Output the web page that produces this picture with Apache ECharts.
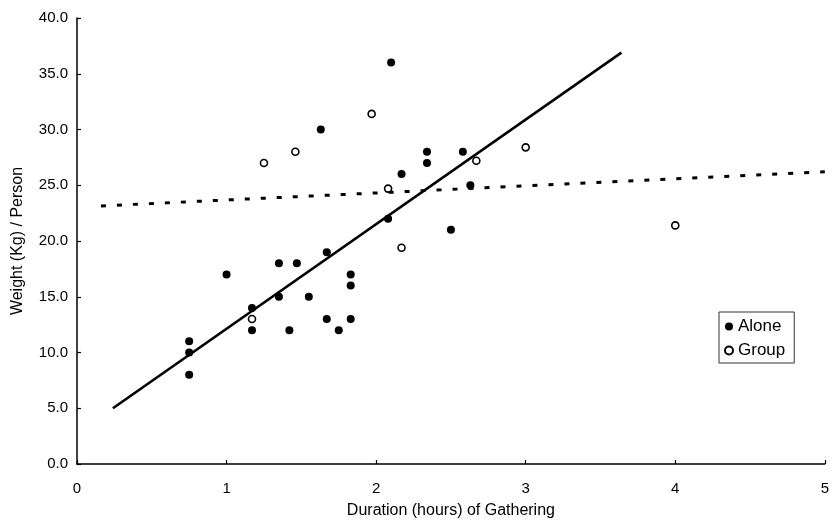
<!DOCTYPE html>
<html>
<head>
<meta charset="utf-8">
<script src="https://cdn.jsdelivr.net/npm/echarts@6/dist/echarts.min.js"></script>
<style>
  html, body { margin: 0; padding: 0; background: #fff; }
  #chart { width: 832px; height: 525px; }
</style>
</head>
<body>
<div id="chart"></div>
<script>
// values
const aloneX = [0.75, 0.75, 0.75, 1.00, 1.17, 1.17, 1.35, 1.35, 1.42, 1.47, 1.55, 1.63, 1.67, 1.67, 1.75, 1.83, 1.83, 1.83, 2.08, 2.10, 2.17, 2.34, 2.34, 2.50, 2.58, 2.63]
const aloneY = [11, 10, 8, 17, 14, 12, 18, 15, 12, 18, 15, 30, 19, 13, 12, 17, 16, 13, 22, 36, 26, 28, 27, 21, 28, 25]
const groupX = [1.17, 1.25, 1.46, 1.97, 2.08, 2.17, 2.67, 3.00, 4.00]
const groupY = [13, 27, 28, 31.4, 24.7, 19.4, 27.2, 28.4, 21.4]
// end points of the two fitted lines
const aloneFitX = [0.24, 3.64]
const aloneFitY = [5.0, 36.9]
const groupFitX = [0.16, 5.0]
const groupFitY = [23.15, 26.2]
const xTicks = [0, 1, 2, 3, 4, 5]
const yTicks = [0, 5, 10, 15, 20, 25, 30, 35, 40]

const pairs = (xs, ys) => xs.map((x, i) => [x, ys[i]])

const font = '"Liberation Sans", Arial, sans-serif'
const chart = echarts.init(document.getElementById('chart'))

chart.setOption({
  animation: false,
  backgroundColor: '#fff',
  textStyle: { fontFamily: font, color: '#000' },
  grid: { left: 77, right: 3, top: 18, bottom: 61 },
  legend: {
    orient: 'vertical',
    left: 719,
    top: 312,
    padding: [6, 9, 4, 5],
    itemGap: 7,
    itemWidth: 8,
    itemHeight: 8,
    borderColor: '#333',
    borderWidth: 1,
    textStyle: { fontFamily: font, fontSize: 17, color: '#000' },
    data: [
      { name: 'Alone', icon: 'circle' },
      { name: 'Group', icon: 'circle' }
    ]
  },
  xAxis: {
    type: 'value',
    min: xTicks[0],
    max: xTicks[xTicks.length - 1],
    interval: 1,
    name: 'Duration (hours) of Gathering',
    nameLocation: 'middle',
    nameGap: 39,
    nameTextStyle: { fontFamily: font, fontSize: 16, color: '#000' },
    axisLine: { lineStyle: { color: '#000', width: 1.5 } },
    axisTick: { inside: true, length: 4, lineStyle: { color: '#000', width: 1.2 } },
    axisLabel: { margin: 17, fontFamily: font, fontSize: 15, color: '#000' },
    splitLine: { show: false }
  },
  yAxis: {
    type: 'value',
    min: yTicks[0],
    max: yTicks[yTicks.length - 1],
    interval: 5,
    name: 'Weight (Kg) / Person',
    nameLocation: 'middle',
    nameGap: 51,
    nameTextStyle: { fontFamily: font, fontSize: 16, color: '#000' },
    axisLine: { lineStyle: { color: '#000', width: 1.5 } },
    axisTick: { inside: true, length: 4, lineStyle: { color: '#000', width: 1.2 } },
    axisLabel: {
      margin: 9,
      fontFamily: font,
      fontSize: 15,
      color: '#000',
      formatter: v => v.toFixed(1)
    },
    splitLine: { show: false }
  },
  series: [
    {
      name: 'aloneFit',
      type: 'line',
      data: pairs(aloneFitX, aloneFitY),
      symbol: 'none',
      silent: true,
      lineStyle: { color: '#000', width: 2.6 },
      z: 1
    },
    {
      name: 'groupFit',
      type: 'line',
      data: pairs(groupFitX, groupFitY),
      symbol: 'none',
      silent: true,
      lineStyle: { color: '#000', width: 3, type: [5, 11] },
      z: 1
    },
    {
      name: 'Alone',
      type: 'scatter',
      data: pairs(aloneX, aloneY),
      symbol: 'circle',
      symbolSize: 8,
      itemStyle: { color: '#000', opacity: 1 },
      z: 3
    },
    {
      name: 'Group',
      type: 'scatter',
      data: pairs(groupX, groupY),
      symbol: 'circle',
      symbolSize: 7,
      itemStyle: { color: '#fff', borderColor: '#000', borderWidth: 1.6, opacity: 1 },
      z: 4
    }
  ]
})
</script>
</body>
</html>
